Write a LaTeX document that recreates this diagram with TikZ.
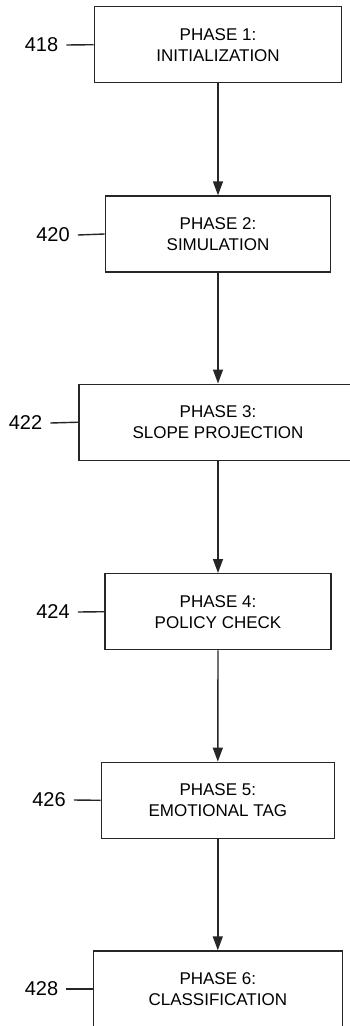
\documentclass[tikz,border=0pt]{standalone}
\usepackage{fontspec}
\setmainfont{Liberation Sans}
\usetikzlibrary{arrows.meta}
\begin{document}
\begin{tikzpicture}[x=1pt,y=-1pt,
  phase/.style={draw=black!85, line width=1.4pt, minimum height=76pt, inner sep=0pt,
    align=center, font=\fontsize{17}{21}\selectfont},
  reflab/.style={inner sep=0pt, font=\fontsize{20}{24}\selectfont},
  leader/.style={draw=black!85, line width=1.4pt},
  flow/.style={draw=black!85, line width=1.4pt, -{Triangle[length=14pt,width=10pt]}}]
\useasboundingbox (0,0) rectangle (350,1026);
\clip (0,0) rectangle (350,1026);
\fill[white] (0,0) rectangle (350,1026);

\node[phase, minimum width=247.4pt] (b1) at (218,44.7) {PHASE 1:\\INITIALIZATION};
\node[phase, minimum width=225.4pt] (b2) at (218,234) {PHASE 2:\\SIMULATION};
\node[phase, minimum width=278pt]   (b3) at (218,422.2) {PHASE 3:\\SLOPE PROJECTION};
\node[phase, minimum width=226pt]   (b4) at (218,611.7) {PHASE 4:\\POLICY CHECK};
\node[phase, minimum width=233pt]   (b5) at (217.8,800.3) {PHASE 5:\\EMOTIONAL TAG};
\node[phase, minimum width=249pt]   (b6) at (217.8,989) {PHASE 6:\\CLASSIFICATION};

\node[reflab] (l1) at (41.5,45) {418};
\node[reflab] (l2) at (53,235) {420};
\node[reflab] (l3) at (25.5,423) {422};
\node[reflab] (l4) at (53,612) {424};
\node[reflab] (l5) at (49,800) {426};
\node[reflab] (l6) at (41.5,989) {428};

\draw[leader] ([xshift=8pt]l1.east) -- (b1.west);
\draw[leader] ([xshift=8pt]l2.east) -- (b2.west);
\draw[leader] ([xshift=8pt]l3.east) -- (b3.west);
\draw[leader] ([xshift=8pt]l4.east) -- (b4.west);
\draw[leader] ([xshift=8pt]l5.east) -- (b5.west);
\draw[leader] ([xshift=8pt]l6.east) -- (b6.west);

\draw[flow] (b1.south) -- (b2.north);
\draw[flow] (b2.south) -- (b3.north);
\draw[flow] (b3.south) -- (b4.north);
\draw[flow] (b4.south) -- (b5.north);
\draw[flow] (b5.south) -- (b6.north);
\end{tikzpicture}
\end{document}
